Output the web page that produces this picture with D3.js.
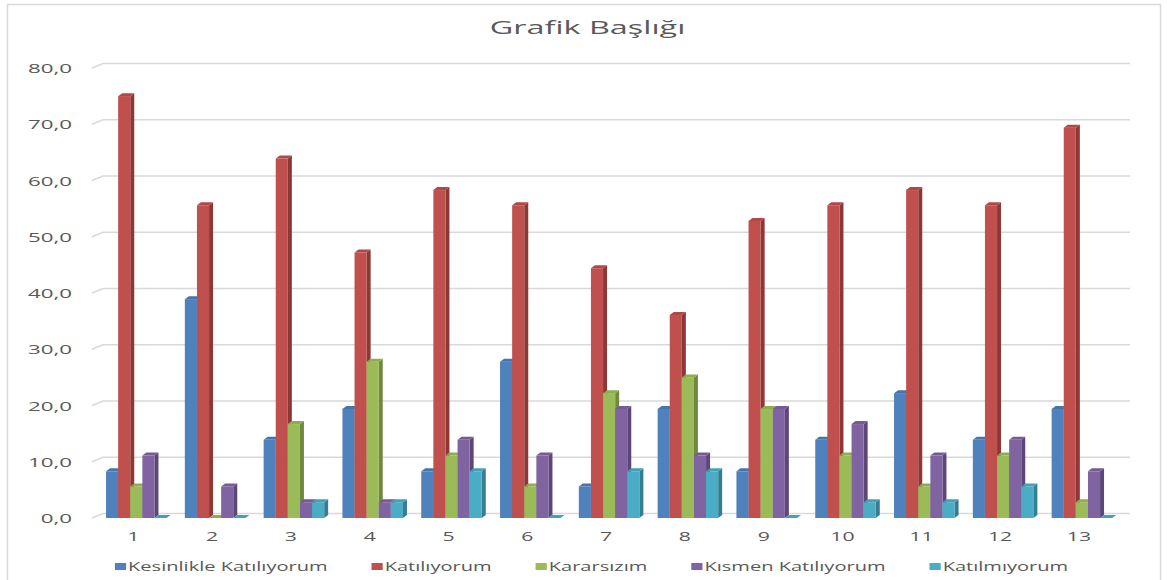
<!DOCTYPE html>
<html>
<head>
<meta charset="utf-8">
<script src="https://cdn.jsdelivr.net/npm/d3@7"></script>
<style>
  html, body { margin: 0; padding: 0; background: #fff; }
  svg { display: block; }
  text { font-family: "Open Sans", sans-serif; fill: #595959; }
</style>
</head>
<body>
<svg id="chart" width="1168" height="580"></svg>
<script>
const title = "Grafik Başlığı";
const categories = ["1","2","3","4","5","6","7","8","9","10","11","12","13"];
const seriesNames = ["Kesinlikle Katılıyorum","Katılıyorum","Kararsızım","Kısmen Katılıyorum","Katılmıyorum"];
const kesinlikleKatiliyorum = [8.3, 38.9, 13.9, 19.4, 8.3, 27.8, 5.6, 19.4, 8.3, 13.9, 22.2, 13.9, 19.4];
const katiliyorum = [75.0, 55.6, 63.9, 47.2, 58.3, 55.6, 44.4, 36.1, 52.8, 55.6, 58.3, 55.6, 69.4];
const kararsizim = [5.6, 0, 16.7, 27.8, 11.1, 5.6, 22.2, 25.0, 19.4, 11.1, 5.6, 11.1, 2.8];
const kismenKatiliyorum = [11.1, 5.6, 2.8, 2.8, 13.9, 11.1, 19.4, 11.1, 19.4, 16.7, 11.1, 13.9, 8.3];
const katilmiyorum = [0, 0, 2.8, 2.8, 8.3, 0, 8.3, 8.3, 0, 2.8, 2.8, 5.6, 0];
const yTicks = [0, 10, 20, 30, 40, 50, 60, 70, 80];
const frontColors = ["#4F81BD", "#C0504D", "#9BBB59", "#8064A2", "#4BACC6"];
const sideColors  = ["#385D8A", "#8C3836", "#71893F", "#5C4776", "#357D91"];
const topColors   = ["#4675AE", "#B24845", "#8EAE4E", "#755A96", "#42A0B9"];

const seriesValues = [kesinlikleKatiliyorum, katiliyorum, kararsizim, kismenKatiliyorum, katilmiyorum];

const SX = 1.8;            // horizontal stretch of the original picture
const SXL = 1.7;           // stretch for legend text
const DX = 4, DY = 3;      // 3D depth of bars
const WX = 11, WY = 4.5;   // 3D depth of back wall

const svg = d3.select("#chart");
const fmt = v => d3.format(".1f")(v).replace(".", ",");

// border
svg.append("rect").attr("x", 7.5).attr("y", 4.5).attr("width", 1153).attr("height", 600)
  .attr("fill", "#fff").attr("stroke", "#d9d9d9").attr("stroke-width", 1.5);

const y = d3.scaleLinear().domain([0, 80]).range([518, 68]);
const x0 = d3.scaleBand().domain(categories).range([96.9, 1121.3]).paddingInner(0.232).paddingOuter(0.116);
const x1 = d3.scaleBand().domain(d3.range(seriesNames.length)).range([0, x0.bandwidth()]);

// gridlines (front diagonal + back wall)
const grid = svg.append("g");
yTicks.forEach(t => {
  const yy = y(t);
  grid.append("path")
    .attr("d", d3.line()([[92, yy], [92 + WX, yy - WY], [1130, yy - WY]]))
    .attr("fill", "none").attr("stroke", "#d9d9d9").attr("stroke-width", 1.5);
});

// y axis labels
svg.append("g").selectAll("text").data(yTicks).join("text")
  .attr("transform", d => `translate(72,${y(d) + 5}) scale(${SX * 1.05},1)`)
  .attr("text-anchor", "end").attr("font-size", 11.8)
  .text(d => fmt(d));

// bars
const bars = svg.append("g");
categories.forEach((c, ci) => {
  seriesValues.forEach((vals, si) => {
    const v = vals[ci];
    const bx = x0(c) + x1(si);
    const w = x1.bandwidth();
    const yt = y(v), yb = y(0);
    const g = bars.append("g");
    g.append("polygon")
      .attr("points", [[bx + w, yt], [bx + w + DX, yt - DY], [bx + w + DX, yb - DY], [bx + w, yb]].join(" "))
      .attr("fill", sideColors[si]);
    g.append("rect").attr("x", bx).attr("y", yt).attr("width", w).attr("height", yb - yt)
      .attr("fill", frontColors[si]);
    g.append("polygon")
      .attr("points", [[bx, yt], [bx + DX, yt - DY], [bx + w + DX, yt - DY], [bx + w, yt]].join(" "))
      .attr("fill", topColors[si]);
  });
});

// category labels
svg.append("g").selectAll("text").data(categories).join("text")
  .attr("transform", d => `translate(${x0(d) + x0.bandwidth() / 2 - 3},541) scale(${SX},1)`)
  .attr("text-anchor", "middle").attr("font-size", 11.8)
  .text(d => d);

// title
svg.append("text")
  .attr("transform", `translate(587.5,34) scale(${SX},1)`)
  .attr("text-anchor", "middle").attr("font-size", 18)
  .text(title);

// legend
const legend = svg.append("g");
const items = seriesNames.map((n, i) => {
  const g = legend.append("g");
  g.append("rect").attr("x", 0).attr("y", -8).attr("width", 7 * 1.6).attr("height", 7).attr("fill", frontColors[i]);
  const t = g.append("text").attr("transform", `translate(${7 * 1.6 + 2},0) scale(${SXL},1)`)
    .attr("font-size", 11.8).text(n);
  const wdt = 7 * 1.6 + 2 + t.node().getComputedTextLength() * SXL;
  return { g, wdt };
});
const gap = 44;
const total = d3.sum(items, d => d.wdt) + gap * (items.length - 1);
let lx = 591.5 - total / 2;
items.forEach(it => {
  it.g.attr("transform", `translate(${lx},571)`);
  lx += it.wdt + gap;
});
</script>
</body>
</html>
